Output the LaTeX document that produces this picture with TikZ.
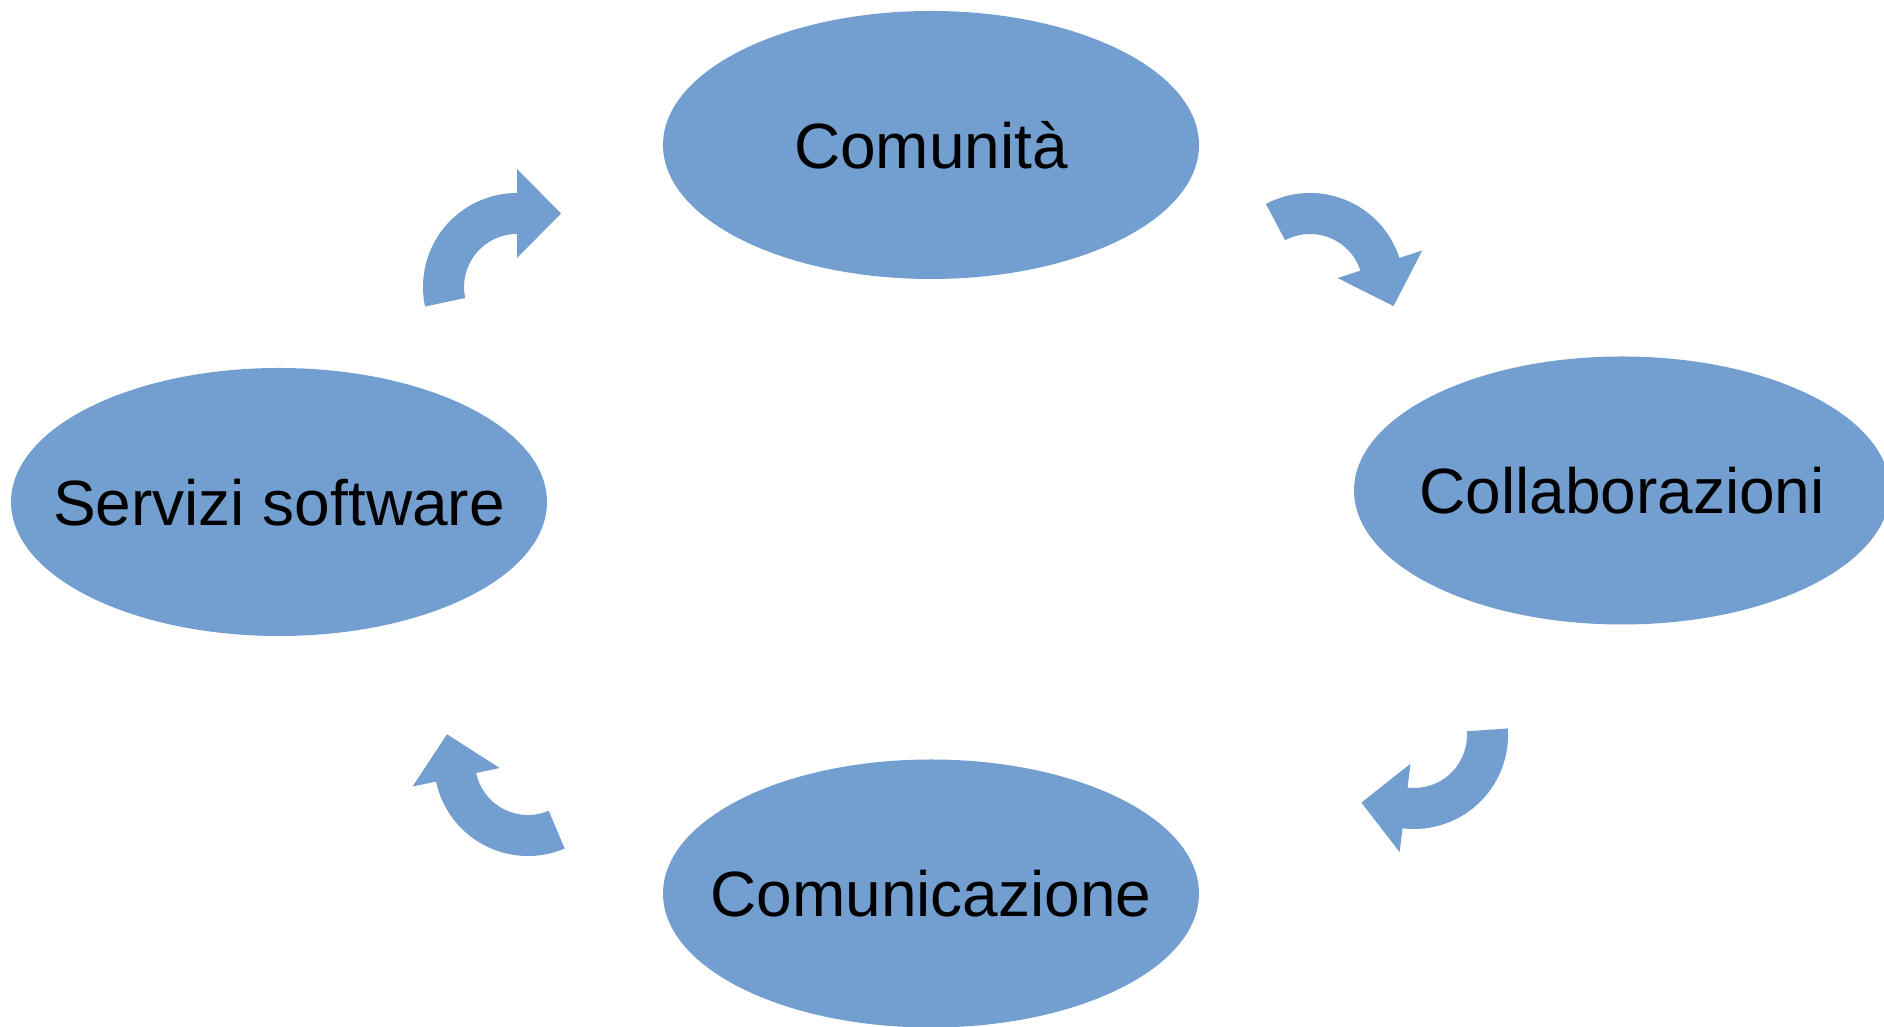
\documentclass[tikz,border=0pt]{standalone}
\usepackage{fontspec}
\setmainfont{Liberation Sans}
\usetikzlibrary{shapes.geometric,calc}
\definecolor{blobblue}{RGB}{114,159,207}
\tikzset{
  blob/.style={ellipse, fill=blobblue, draw=none, minimum width=536pt, minimum height=268pt,
    inner sep=0pt, text height=47pt, text depth=0pt, font=\fontsize{64}{76}\selectfont, text=black},
  cyclearrow/.style={fill=blobblue, draw=none}
}
\newcommand{\turnarrow}[3]{%
  \fill[cyclearrow] ($(#1)+(#2:94pt)$) arc[start angle=#2, end angle=#3, radius=94pt]
   -- ($(#1)+(#3:118pt)$) -- ($(#1)+(#3:73.5pt)+({#3-90}:44pt)$) -- ($(#1)+(#3:29pt)$)
   -- ($(#1)+(#3:53pt)$) arc[start angle=#3, end angle=#2, radius=53pt] -- cycle;
}
\begin{document}
\begin{tikzpicture}[x=1pt,y=1pt]
\useasboundingbox (0,0) rectangle (1884,1027);
\clip (0,0) rectangle (1884,1027);
\node[blob] (comunita) at (931,882) {\makebox[0pt]{Comunità}};
\node[blob] (collab) at (1622,536.5) {\makebox[0pt]{Collaborazioni}};
\node[blob] (comunic) at (931,133.5) {\makebox[0pt]{Comunicazione}};
\node[blob] (servizi) at (279,525) {\makebox[0pt]{Servizi software}};
\coordinate (a1) at (517,740);
\coordinate (a2) at (1310,740);
\coordinate (a3) at (1414,292);
\coordinate (a4) at (528,265);
\turnarrow{a1}{192}{90}
\turnarrow{a2}{118}{18}
\turnarrow{a3}{4}{-97}
\turnarrow{a4}{-67}{-168}
\end{tikzpicture}
\end{document}
